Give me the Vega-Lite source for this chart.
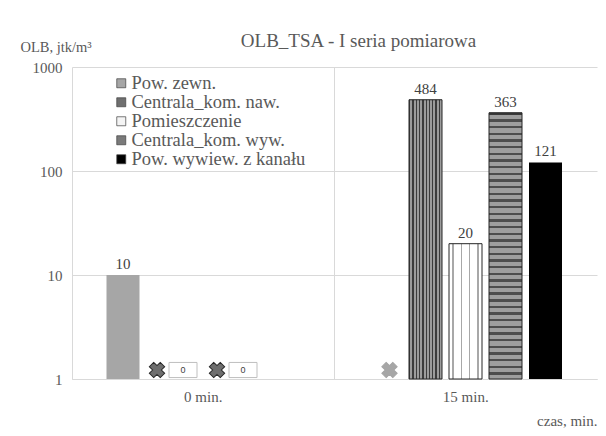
{
  "$schema": "https://vega.github.io/schema/vega-lite/v6.json",
  "width": 525,
  "height": 312,
  "autosize": {"type": "none"},
  "padding": {"left": 72, "top": 67, "right": 9, "bottom": 57},
  "background": "white",
  "config": {"font": "Liberation Serif", "view": {"stroke": null}},
  "title": {"text": "OLB_TSA - I seria pomiarowa", "fontSize": 19, "fontWeight": "normal", "color": "#595959", "anchor": "middle", "dx": 24, "dy": 30, "offset": 18, "font": "Liberation Serif"},
  "data": {"values": [
    {"czas": "0 min.", "seria": "Pow. zewn.", "olb": 10},
    {"czas": "0 min.", "seria": "Centrala_kom. naw.", "olb": 0},
    {"czas": "0 min.", "seria": "Pomieszczenie", "olb": 0},
    {"czas": "0 min.", "seria": "Centrala_kom. wyw.", "olb": 0},
    {"czas": "0 min.", "seria": "Pow. wywiew. z kanału", "olb": 0},
    {"czas": "15 min.", "seria": "Pow. zewn.", "olb": 0},
    {"czas": "15 min.", "seria": "Centrala_kom. naw.", "olb": 484},
    {"czas": "15 min.", "seria": "Pomieszczenie", "olb": 20},
    {"czas": "15 min.", "seria": "Centrala_kom. wyw.", "olb": 363},
    {"czas": "15 min.", "seria": "Pow. wywiew. z kanału", "olb": 121}
  ]},
  "resolve": {"scale": {"xOffset": "independent"}, "axis": {"x": "independent"}},
  "layer": [
    {
      "transform": [{"filter": "datum.olb > 0"}],
      "mark": {"type": "bar"},
      "encoding": {
        "x": {"field": "czas", "type": "nominal", "sort": ["0 min.", "15 min."], "scale": {"paddingInner": 0, "paddingOuter": 0},
          "axis": {"title": "czas, min.", "titleAnchor": "end", "titleAlign": "right", "titleFontSize": 15, "titleFontWeight": "normal", "titleColor": "#595959", "titlePadding": 9, "labelAngle": 0, "labelFontSize": 15, "labelColor": "#595959", "labelPadding": 10, "ticks": false, "domainColor": "#d9d9d9", "grid": false}},
        "xOffset": {"field": "seria", "scale": {"domain": ["Pow. zewn.", "Centrala_kom. naw.", "Pomieszczenie", "Centrala_kom. wyw.", "Pow. wywiew. z kanału"], "range": [31, 231], "paddingInner": 0.175, "paddingOuter": 0.0875}},
        "y": {"field": "olb", "type": "quantitative", "scale": {"type": "log", "domain": [1, 1000]},
          "axis": {"values": [1, 10, 100, 1000], "format": "d", "title": "OLB, jtk/m³", "titleAngle": 0, "titleAlign": "left", "titleBaseline": "alphabetic", "titleX": -52, "titleY": -16, "titleFontSize": 14.5, "titleFontWeight": "normal", "titleColor": "#595959", "labelFontSize": 15, "labelColor": "#595959", "labelPadding": 10, "ticks": false, "domain": false, "gridColor": "#d9d9d9"}},
        "y2": {"datum": 1},
        "color": {"field": "seria", "type": "nominal",
          "scale": {"domain": ["Pow. zewn.", "Centrala_kom. naw.", "Pomieszczenie", "Centrala_kom. wyw.", "Pow. wywiew. z kanału"], "range": ["#a6a6a6", "#6f6f6f", "#f4f4f4", "#7a7a7a", "#000000"]},
          "legend": {"title": null, "orient": "none", "legendX": 40, "legendY": 7, "symbolType": "square", "symbolSize": 81, "labelFontSize": 18.5, "labelColor": "#595959", "labelFont": "Liberation Serif", "rowPadding": 0, "symbolStrokeColor": "#404040", "symbolStrokeWidth": 0.7, "labelOffset": 1, "padding": 0, "labelLimit": 300}}
      }
    },
    {
      "transform": [{"filter": "datum.seria === 'Centrala_kom. naw.' && datum.olb > 0"}],
      "mark": {"type": "bar", "stroke": "#262626", "strokeWidth": 1, "fill": {"gradient": "linear", "x1": 0, "y1": 0, "x2": 1, "y2": 0, "stops": [
        {"offset": 0, "color": "#3c3c3c"}, {"offset": 0.04, "color": "#3c3c3c"}, {"offset": 0.04, "color": "#9c9c9c"}, {"offset": 0.1, "color": "#9c9c9c"},
        {"offset": 0.1, "color": "#3c3c3c"}, {"offset": 0.14, "color": "#3c3c3c"}, {"offset": 0.14, "color": "#9c9c9c"}, {"offset": 0.2, "color": "#9c9c9c"},
        {"offset": 0.2, "color": "#3c3c3c"}, {"offset": 0.24, "color": "#3c3c3c"}, {"offset": 0.24, "color": "#9c9c9c"}, {"offset": 0.3, "color": "#9c9c9c"},
        {"offset": 0.3, "color": "#3c3c3c"}, {"offset": 0.34, "color": "#3c3c3c"}, {"offset": 0.34, "color": "#9c9c9c"}, {"offset": 0.4, "color": "#9c9c9c"},
        {"offset": 0.4, "color": "#3c3c3c"}, {"offset": 0.44, "color": "#3c3c3c"}, {"offset": 0.44, "color": "#9c9c9c"}, {"offset": 0.5, "color": "#9c9c9c"},
        {"offset": 0.5, "color": "#3c3c3c"}, {"offset": 0.54, "color": "#3c3c3c"}, {"offset": 0.54, "color": "#9c9c9c"}, {"offset": 0.6, "color": "#9c9c9c"},
        {"offset": 0.6, "color": "#3c3c3c"}, {"offset": 0.64, "color": "#3c3c3c"}, {"offset": 0.64, "color": "#9c9c9c"}, {"offset": 0.7, "color": "#9c9c9c"},
        {"offset": 0.7, "color": "#3c3c3c"}, {"offset": 0.74, "color": "#3c3c3c"}, {"offset": 0.74, "color": "#9c9c9c"}, {"offset": 0.8, "color": "#9c9c9c"},
        {"offset": 0.8, "color": "#3c3c3c"}, {"offset": 0.84, "color": "#3c3c3c"}, {"offset": 0.84, "color": "#9c9c9c"}, {"offset": 0.9, "color": "#9c9c9c"},
        {"offset": 0.9, "color": "#3c3c3c"}, {"offset": 0.94, "color": "#3c3c3c"}, {"offset": 0.94, "color": "#9c9c9c"}, {"offset": 1, "color": "#9c9c9c"}
      ]}},
      "encoding": {
        "x": {"field": "czas", "type": "nominal", "sort": ["0 min.", "15 min."], "axis": {"grid": true, "bandPosition": 0, "gridColor": "#d9d9d9", "labels": false, "ticks": false, "domain": false, "title": null}},
        "xOffset": {"field": "seria", "scale": {"domain": ["Pow. zewn.", "Centrala_kom. naw.", "Pomieszczenie", "Centrala_kom. wyw.", "Pow. wywiew. z kanału"], "range": [31, 231], "paddingInner": 0.175, "paddingOuter": 0.0875}},
        "y": {"field": "olb", "type": "quantitative", "title": "OLB, jtk/m³"},
        "y2": {"datum": 1}
      }
    },
    {
      "transform": [{"filter": "datum.seria === 'Pomieszczenie' && datum.olb > 0"}],
      "mark": {"type": "bar", "stroke": "#262626", "strokeWidth": 1, "fill": {"gradient": "linear", "x1": 0, "y1": 0, "x2": 1, "y2": 0, "stops": [
        {"offset": 0, "color": "#ffffff"}, {"offset": 0.1, "color": "#ffffff"}, {"offset": 0.1, "color": "#a8a8a8"}, {"offset": 0.15, "color": "#a8a8a8"}, {"offset": 0.15, "color": "#ffffff"},
        {"offset": 0.35, "color": "#ffffff"}, {"offset": 0.35, "color": "#a8a8a8"}, {"offset": 0.4, "color": "#a8a8a8"}, {"offset": 0.4, "color": "#ffffff"},
        {"offset": 0.6, "color": "#ffffff"}, {"offset": 0.6, "color": "#a8a8a8"}, {"offset": 0.65, "color": "#a8a8a8"}, {"offset": 0.65, "color": "#ffffff"},
        {"offset": 0.85, "color": "#ffffff"}, {"offset": 0.85, "color": "#a8a8a8"}, {"offset": 0.9, "color": "#a8a8a8"}, {"offset": 0.9, "color": "#ffffff"}, {"offset": 1, "color": "#ffffff"}
      ]}},
      "encoding": {
        "x": {"field": "czas", "type": "nominal", "sort": ["0 min.", "15 min."], "axis": null},
        "xOffset": {"field": "seria", "scale": {"domain": ["Pow. zewn.", "Centrala_kom. naw.", "Pomieszczenie", "Centrala_kom. wyw.", "Pow. wywiew. z kanału"], "range": [31, 231], "paddingInner": 0.175, "paddingOuter": 0.0875}},
        "y": {"field": "olb", "type": "quantitative", "title": "OLB, jtk/m³"},
        "y2": {"datum": 1}
      }
    },
    {
      "transform": [{"filter": "datum.seria === 'Centrala_kom. wyw.' && datum.olb > 0"}],
      "mark": {"type": "bar", "stroke": "#262626", "strokeWidth": 1, "fill": {"gradient": "linear", "x1": 0, "y1": 0, "x2": 0, "y2": 1, "stops": [
        {"offset": 0, "color": "#3a3a3a"}, {"offset": 0.009, "color": "#3a3a3a"}, {"offset": 0.009, "color": "#9e9e9e"}, {"offset": 0.025, "color": "#9e9e9e"},
        {"offset": 0.025, "color": "#4d4d4d"}, {"offset": 0.034, "color": "#4d4d4d"}, {"offset": 0.034, "color": "#9e9e9e"}, {"offset": 0.05, "color": "#9e9e9e"},
        {"offset": 0.05, "color": "#4d4d4d"}, {"offset": 0.059, "color": "#4d4d4d"}, {"offset": 0.059, "color": "#9e9e9e"}, {"offset": 0.075, "color": "#9e9e9e"},
        {"offset": 0.075, "color": "#4d4d4d"}, {"offset": 0.084, "color": "#4d4d4d"}, {"offset": 0.084, "color": "#9e9e9e"}, {"offset": 0.1, "color": "#9e9e9e"},
        {"offset": 0.1, "color": "#4d4d4d"}, {"offset": 0.109, "color": "#4d4d4d"}, {"offset": 0.109, "color": "#9e9e9e"}, {"offset": 0.125, "color": "#9e9e9e"},
        {"offset": 0.125, "color": "#4d4d4d"}, {"offset": 0.134, "color": "#4d4d4d"}, {"offset": 0.134, "color": "#9e9e9e"}, {"offset": 0.15, "color": "#9e9e9e"},
        {"offset": 0.15, "color": "#4d4d4d"}, {"offset": 0.159, "color": "#4d4d4d"}, {"offset": 0.159, "color": "#9e9e9e"}, {"offset": 0.175, "color": "#9e9e9e"},
        {"offset": 0.175, "color": "#4d4d4d"}, {"offset": 0.184, "color": "#4d4d4d"}, {"offset": 0.184, "color": "#9e9e9e"}, {"offset": 0.2, "color": "#9e9e9e"},
        {"offset": 0.2, "color": "#4d4d4d"}, {"offset": 0.209, "color": "#4d4d4d"}, {"offset": 0.209, "color": "#9e9e9e"}, {"offset": 0.225, "color": "#9e9e9e"},
        {"offset": 0.225, "color": "#4d4d4d"}, {"offset": 0.234, "color": "#4d4d4d"}, {"offset": 0.234, "color": "#9e9e9e"}, {"offset": 0.25, "color": "#9e9e9e"},
        {"offset": 0.25, "color": "#4d4d4d"}, {"offset": 0.259, "color": "#4d4d4d"}, {"offset": 0.259, "color": "#9e9e9e"}, {"offset": 0.275, "color": "#9e9e9e"},
        {"offset": 0.275, "color": "#4d4d4d"}, {"offset": 0.284, "color": "#4d4d4d"}, {"offset": 0.284, "color": "#9e9e9e"}, {"offset": 0.3, "color": "#9e9e9e"},
        {"offset": 0.3, "color": "#4d4d4d"}, {"offset": 0.309, "color": "#4d4d4d"}, {"offset": 0.309, "color": "#9e9e9e"}, {"offset": 0.325, "color": "#9e9e9e"},
        {"offset": 0.325, "color": "#4d4d4d"}, {"offset": 0.334, "color": "#4d4d4d"}, {"offset": 0.334, "color": "#9e9e9e"}, {"offset": 0.35, "color": "#9e9e9e"},
        {"offset": 0.35, "color": "#4d4d4d"}, {"offset": 0.359, "color": "#4d4d4d"}, {"offset": 0.359, "color": "#9e9e9e"}, {"offset": 0.375, "color": "#9e9e9e"},
        {"offset": 0.375, "color": "#4d4d4d"}, {"offset": 0.384, "color": "#4d4d4d"}, {"offset": 0.384, "color": "#9e9e9e"}, {"offset": 0.4, "color": "#9e9e9e"},
        {"offset": 0.4, "color": "#4d4d4d"}, {"offset": 0.409, "color": "#4d4d4d"}, {"offset": 0.409, "color": "#9e9e9e"}, {"offset": 0.425, "color": "#9e9e9e"},
        {"offset": 0.425, "color": "#4d4d4d"}, {"offset": 0.434, "color": "#4d4d4d"}, {"offset": 0.434, "color": "#9e9e9e"}, {"offset": 0.45, "color": "#9e9e9e"},
        {"offset": 0.45, "color": "#4d4d4d"}, {"offset": 0.459, "color": "#4d4d4d"}, {"offset": 0.459, "color": "#9e9e9e"}, {"offset": 0.475, "color": "#9e9e9e"},
        {"offset": 0.475, "color": "#4d4d4d"}, {"offset": 0.484, "color": "#4d4d4d"}, {"offset": 0.484, "color": "#9e9e9e"}, {"offset": 0.5, "color": "#9e9e9e"},
        {"offset": 0.5, "color": "#4d4d4d"}, {"offset": 0.509, "color": "#4d4d4d"}, {"offset": 0.509, "color": "#9e9e9e"}, {"offset": 0.525, "color": "#9e9e9e"},
        {"offset": 0.525, "color": "#4d4d4d"}, {"offset": 0.534, "color": "#4d4d4d"}, {"offset": 0.534, "color": "#9e9e9e"}, {"offset": 0.55, "color": "#9e9e9e"},
        {"offset": 0.55, "color": "#4d4d4d"}, {"offset": 0.559, "color": "#4d4d4d"}, {"offset": 0.559, "color": "#9e9e9e"}, {"offset": 0.575, "color": "#9e9e9e"},
        {"offset": 0.575, "color": "#4d4d4d"}, {"offset": 0.584, "color": "#4d4d4d"}, {"offset": 0.584, "color": "#9e9e9e"}, {"offset": 0.6, "color": "#9e9e9e"},
        {"offset": 0.6, "color": "#4d4d4d"}, {"offset": 0.609, "color": "#4d4d4d"}, {"offset": 0.609, "color": "#9e9e9e"}, {"offset": 0.625, "color": "#9e9e9e"},
        {"offset": 0.625, "color": "#4d4d4d"}, {"offset": 0.634, "color": "#4d4d4d"}, {"offset": 0.634, "color": "#9e9e9e"}, {"offset": 0.65, "color": "#9e9e9e"},
        {"offset": 0.65, "color": "#4d4d4d"}, {"offset": 0.659, "color": "#4d4d4d"}, {"offset": 0.659, "color": "#9e9e9e"}, {"offset": 0.675, "color": "#9e9e9e"},
        {"offset": 0.675, "color": "#4d4d4d"}, {"offset": 0.684, "color": "#4d4d4d"}, {"offset": 0.684, "color": "#9e9e9e"}, {"offset": 0.7, "color": "#9e9e9e"},
        {"offset": 0.7, "color": "#4d4d4d"}, {"offset": 0.709, "color": "#4d4d4d"}, {"offset": 0.709, "color": "#9e9e9e"}, {"offset": 0.725, "color": "#9e9e9e"},
        {"offset": 0.725, "color": "#4d4d4d"}, {"offset": 0.734, "color": "#4d4d4d"}, {"offset": 0.734, "color": "#9e9e9e"}, {"offset": 0.75, "color": "#9e9e9e"},
        {"offset": 0.75, "color": "#4d4d4d"}, {"offset": 0.759, "color": "#4d4d4d"}, {"offset": 0.759, "color": "#9e9e9e"}, {"offset": 0.775, "color": "#9e9e9e"},
        {"offset": 0.775, "color": "#4d4d4d"}, {"offset": 0.784, "color": "#4d4d4d"}, {"offset": 0.784, "color": "#9e9e9e"}, {"offset": 0.8, "color": "#9e9e9e"},
        {"offset": 0.8, "color": "#4d4d4d"}, {"offset": 0.809, "color": "#4d4d4d"}, {"offset": 0.809, "color": "#9e9e9e"}, {"offset": 0.825, "color": "#9e9e9e"},
        {"offset": 0.825, "color": "#4d4d4d"}, {"offset": 0.834, "color": "#4d4d4d"}, {"offset": 0.834, "color": "#9e9e9e"}, {"offset": 0.85, "color": "#9e9e9e"},
        {"offset": 0.85, "color": "#4d4d4d"}, {"offset": 0.859, "color": "#4d4d4d"}, {"offset": 0.859, "color": "#9e9e9e"}, {"offset": 0.875, "color": "#9e9e9e"},
        {"offset": 0.875, "color": "#4d4d4d"}, {"offset": 0.884, "color": "#4d4d4d"}, {"offset": 0.884, "color": "#9e9e9e"}, {"offset": 0.9, "color": "#9e9e9e"},
        {"offset": 0.9, "color": "#4d4d4d"}, {"offset": 0.909, "color": "#4d4d4d"}, {"offset": 0.909, "color": "#9e9e9e"}, {"offset": 0.925, "color": "#9e9e9e"},
        {"offset": 0.925, "color": "#4d4d4d"}, {"offset": 0.934, "color": "#4d4d4d"}, {"offset": 0.934, "color": "#9e9e9e"}, {"offset": 0.95, "color": "#9e9e9e"},
        {"offset": 0.95, "color": "#4d4d4d"}, {"offset": 0.959, "color": "#4d4d4d"}, {"offset": 0.959, "color": "#9e9e9e"}, {"offset": 0.975, "color": "#9e9e9e"},
        {"offset": 0.975, "color": "#4d4d4d"}, {"offset": 0.984, "color": "#4d4d4d"}, {"offset": 0.984, "color": "#9e9e9e"}, {"offset": 1, "color": "#9e9e9e"}
      ]}},
      "encoding": {
        "x": {"field": "czas", "type": "nominal", "sort": ["0 min.", "15 min."], "axis": null},
        "xOffset": {"field": "seria", "scale": {"domain": ["Pow. zewn.", "Centrala_kom. naw.", "Pomieszczenie", "Centrala_kom. wyw.", "Pow. wywiew. z kanału"], "range": [31, 231], "paddingInner": 0.175, "paddingOuter": 0.0875}},
        "y": {"field": "olb", "type": "quantitative", "title": "OLB, jtk/m³"},
        "y2": {"datum": 1}
      }
    },
    {
      "transform": [{"filter": "datum.olb > 0"}],
      "mark": {"type": "text", "baseline": "bottom", "dy": -3, "fontSize": 15, "color": "#404040", "font": "Liberation Serif"},
      "encoding": {
        "x": {"field": "czas", "type": "nominal", "sort": ["0 min.", "15 min."], "axis": null},
        "xOffset": {"field": "seria", "scale": {"type": "point", "domain": ["Pow. zewn.", "Centrala_kom. naw.", "Pomieszczenie", "Centrala_kom. wyw.", "Pow. wywiew. z kanału"], "range": [51, 211], "padding": 0}},
        "y": {"field": "olb", "type": "quantitative", "title": "OLB, jtk/m³"},
        "text": {"field": "olb", "type": "quantitative"}
      }
    },
    {
      "transform": [{"filter": "datum.olb === 0 && (datum.seria === 'Pow. zewn.' || datum.seria === 'Centrala_kom. naw.' || datum.seria === 'Centrala_kom. wyw.')"}],
      "mark": {"type": "point", "shape": "cross", "angle": 45, "size": 240, "filled": true, "strokeWidth": 1, "opacity": 1, "yOffset": -9},
      "encoding": {
        "x": {"field": "czas", "type": "nominal", "sort": ["0 min.", "15 min."], "axis": null},
        "xOffset": {"field": "seria", "scale": {"type": "point", "domain": ["Pow. zewn.", "Centrala_kom. naw.", "Pomieszczenie", "Centrala_kom. wyw.", "Pow. wywiew. z kanału"], "range": [55, 175], "padding": 0}},
        "y": {"datum": 1, "type": "quantitative"},
        "color": {"condition": {"test": "datum.seria === 'Pow. zewn.'", "value": "#a6a6a6"}, "value": "#6e6e6e"},
        "stroke": {"condition": {"test": "datum.seria === 'Pow. zewn.'", "value": "#a6a6a6"}, "value": "#2a2a2a"}
      }
    },
    {
      "transform": [{"filter": "datum.olb === 0 && (datum.seria === 'Pomieszczenie' || datum.seria === 'Pow. wywiew. z kanału')"}],
      "mark": {"type": "point", "shape": "M-1,-0.54H1V0.54H-1Z", "size": 784, "filled": true, "fill": "#ffffff", "stroke": "#bfbfbf", "strokeWidth": 1, "opacity": 1, "yOffset": -9},
      "encoding": {
        "x": {"field": "czas", "type": "nominal", "sort": ["0 min.", "15 min."], "axis": null},
        "xOffset": {"field": "seria", "scale": {"type": "point", "domain": ["Pow. zewn.", "Centrala_kom. naw.", "Pomieszczenie", "Centrala_kom. wyw.", "Pow. wywiew. z kanału"], "range": [51, 171], "padding": 0}},
        "y": {"datum": 1, "type": "quantitative"}
      }
    },
    {
      "transform": [{"filter": "datum.olb === 0 && (datum.seria === 'Pomieszczenie' || datum.seria === 'Pow. wywiew. z kanału')"}],
      "mark": {"type": "text", "baseline": "middle", "fontSize": 9, "color": "#404040", "font": "Liberation Sans", "yOffset": -9},
      "encoding": {
        "x": {"field": "czas", "type": "nominal", "sort": ["0 min.", "15 min."], "axis": null},
        "xOffset": {"field": "seria", "scale": {"type": "point", "domain": ["Pow. zewn.", "Centrala_kom. naw.", "Pomieszczenie", "Centrala_kom. wyw.", "Pow. wywiew. z kanału"], "range": [51, 171], "padding": 0}},
        "y": {"datum": 1, "type": "quantitative"},
        "text": {"field": "olb", "type": "quantitative"}
      }
    }
  ]
}
